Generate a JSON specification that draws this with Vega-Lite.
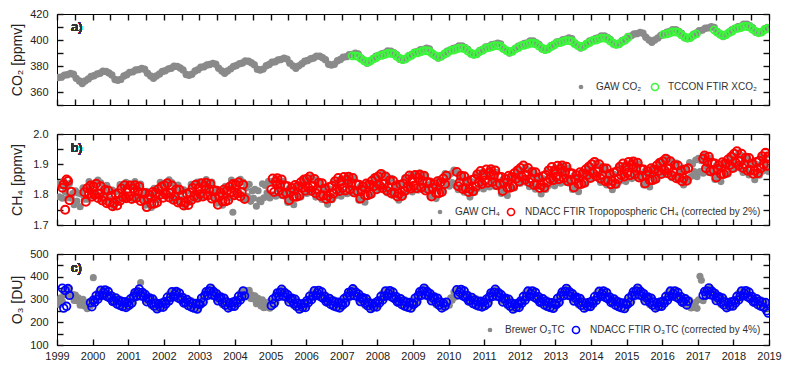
{
"$schema":"https://vega.github.io/schema/vega-lite/v6.json",
"padding":{"left":9,"top":7,"right":5,"bottom":5},
"config":{"font":"Liberation Sans","view":{"stroke":"#000","strokeWidth":1},
"axis":{"domain":true,"domainColor":"#000","domainWidth":1,"grid":false,"ticks":true,"tickColor":"#111","tickOpacity":1,"tickWidth":1.4,"tickSize":-6,"tickRound":true,"zindex":1,"labelFont":"Liberation Sans","labelFontSize":11,"labelColor":"#222","titleFont":"Liberation Sans","titleFontSize":14,"titleFontWeight":"normal","titleColor":"#222","labelFlush":false,"labelOverlap":false},
"legend":{"labelFont":"Liberation Sans","labelFontSize":10,"labelColor":"#333","padding":0,"symbolType":"circle","labelLimit":400,"title":null}},
"datasets":{
"co2":[
{"t":1999.04,"g":371.2},{"t":1999.13,"g":371.6},{"t":1999.21,"g":373.0},{"t":1999.29,"g":373.3},{"t":1999.38,"g":374.2},{"t":1999.46,"g":373.6},{"t":1999.54,"g":370.5},{"t":1999.63,"g":368.4},{"t":1999.71,"g":366.6},{"t":1999.79,"g":368.4},{"t":1999.88,"g":370.0},{"t":1999.96,"g":371.9},
{"t":2000.04,"g":372.5},{"t":2000.13,"g":373.9},{"t":2000.21,"g":374.4},{"t":2000.29,"g":375.9},{"t":2000.38,"g":375.8},{"t":2000.46,"g":374.6},{"t":2000.54,"g":373.1},{"t":2000.63,"g":369.6},{"t":2000.71,"g":369.0},{"t":2000.79,"g":369.7},{"t":2000.88,"g":372.3},{"t":2000.96,"g":373.3},
{"t":2001.04,"g":375.1},{"t":2001.13,"g":375.5},{"t":2001.21,"g":376.9},{"t":2001.29,"g":377.2},{"t":2001.38,"g":378.1},{"t":2001.46,"g":377.5},{"t":2001.54,"g":374.4},{"t":2001.63,"g":372.3},{"t":2001.71,"g":370.5},{"t":2001.79,"g":372.3},{"t":2001.88,"g":373.9},{"t":2001.96,"g":375.8},
{"t":2002.04,"g":376.4},{"t":2002.13,"g":377.8},{"t":2002.21,"g":378.3},{"t":2002.29,"g":379.8},{"t":2002.38,"g":379.7},{"t":2002.46,"g":378.5},{"t":2002.54,"g":377.0},{"t":2002.63,"g":373.5},{"t":2002.71,"g":372.9},{"t":2002.79,"g":373.6},{"t":2002.88,"g":376.2},{"t":2002.96,"g":377.2},
{"t":2003.04,"g":379.0},{"t":2003.13,"g":379.4},{"t":2003.21,"g":380.8},{"t":2003.29,"g":381.1},{"t":2003.38,"g":382.0},{"t":2003.46,"g":381.4},{"t":2003.54,"g":378.3},{"t":2003.63,"g":376.2},{"t":2003.71,"g":374.4},{"t":2003.79,"g":376.2},{"t":2003.88,"g":377.8},{"t":2003.96,"g":379.7},
{"t":2004.04,"g":380.4},{"t":2004.13,"g":381.8},{"t":2004.21,"g":382.3},{"t":2004.29,"g":383.8},{"t":2004.38,"g":383.7},{"t":2004.46,"g":382.5},{"t":2004.54,"g":381.0},{"t":2004.63,"g":377.5},{"t":2004.71,"g":376.9},{"t":2004.79,"g":377.6},{"t":2004.88,"g":380.2},{"t":2004.96,"g":381.2},
{"t":2005.04,"g":382.9},{"t":2005.13,"g":383.3},{"t":2005.21,"g":384.7},{"t":2005.29,"g":385.0},{"t":2005.38,"g":385.9},{"t":2005.46,"g":385.3},{"t":2005.54,"g":382.2},{"t":2005.63,"g":380.1},{"t":2005.71,"g":378.3},{"t":2005.79,"g":380.1},{"t":2005.88,"g":381.7},{"t":2005.96,"g":383.6},
{"t":2006.04,"g":384.2},{"t":2006.13,"g":385.6},{"t":2006.21,"g":386.1},{"t":2006.29,"g":387.6},{"t":2006.38,"g":387.5},{"t":2006.46,"g":386.3},{"t":2006.54,"g":384.8},{"t":2006.63,"g":381.3},{"t":2006.71,"g":380.7},{"t":2006.79,"g":381.4},{"t":2006.88,"g":384.0},{"t":2006.96,"g":385.0},
{"t":2007.04,"g":386.8},{"t":2007.13,"g":387.2},{"t":2007.21,"g":388.6},{"t":2007.29,"g":388.9,"x":387.8},{"t":2007.38,"g":389.8,"x":387.8},{"t":2007.46,"g":389.2,"x":387.4},{"t":2007.54,"g":386.1,"x":385.6},{"t":2007.63,"g":384.0,"x":384.0},{"t":2007.71,"g":382.2,"x":383.0},{"t":2007.79,"g":384.0,"x":383.5},{"t":2007.88,"g":385.6,"x":385.3},{"t":2007.96,"g":387.5,"x":386.3},
{"t":2008.04,"g":388.1,"x":387.8},{"t":2008.13,"g":389.5,"x":388.2},{"t":2008.21,"g":390.0,"x":388.9},{"t":2008.29,"g":391.5,"x":389.7},{"t":2008.38,"g":391.4,"x":389.7},{"t":2008.46,"g":390.2,"x":389.3},{"t":2008.54,"g":388.7,"x":387.5},{"t":2008.63,"g":385.2,"x":385.9},{"t":2008.71,"g":384.6,"x":384.9},{"t":2008.79,"g":385.3,"x":385.4},{"t":2008.88,"g":387.9,"x":387.2},{"t":2008.96,"g":388.9,"x":388.2},
{"t":2009.04,"g":390.7,"x":389.8},{"t":2009.13,"g":391.1,"x":390.2},{"t":2009.21,"g":392.5,"x":390.9},{"t":2009.29,"g":392.8,"x":391.7},{"t":2009.38,"g":393.7,"x":391.7},{"t":2009.46,"g":393.1,"x":391.3},{"t":2009.54,"g":390.0,"x":389.5},{"t":2009.63,"g":387.9,"x":387.9},{"t":2009.71,"g":386.1,"x":386.9},{"t":2009.79,"g":387.9,"x":387.4},{"t":2009.88,"g":389.5,"x":389.2},{"t":2009.96,"g":391.4,"x":390.2},
{"t":2010.04,"g":392.1,"x":391.8},{"t":2010.13,"g":393.5,"x":392.2},{"t":2010.21,"g":394.0,"x":392.9},{"t":2010.29,"g":395.5,"x":393.7},{"t":2010.38,"g":395.4,"x":393.7},{"t":2010.46,"g":394.2,"x":393.3},{"t":2010.54,"g":392.7,"x":391.5},{"t":2010.63,"g":389.2,"x":389.9},{"t":2010.71,"g":388.6,"x":388.9},{"t":2010.79,"g":389.3,"x":389.4},{"t":2010.88,"g":391.9,"x":391.2},{"t":2010.96,"g":392.9,"x":392.2},
{"t":2011.04,"g":394.6,"x":393.7},{"t":2011.13,"g":395.0,"x":394.1},{"t":2011.21,"g":396.4,"x":394.8},{"t":2011.29,"g":396.7,"x":395.6},{"t":2011.38,"g":397.6,"x":395.6},{"t":2011.46,"g":397.0,"x":395.2},{"t":2011.54,"g":393.9,"x":393.4},{"t":2011.63,"g":391.8,"x":391.8},{"t":2011.71,"g":390.0,"x":390.8},{"t":2011.79,"g":391.8,"x":391.3},{"t":2011.88,"g":393.4,"x":393.1},{"t":2011.96,"g":395.3,"x":394.1},
{"t":2012.04,"g":395.9,"x":395.6},{"t":2012.13,"g":397.3,"x":396.0},{"t":2012.21,"g":397.8,"x":396.7},{"t":2012.29,"g":399.3,"x":397.5},{"t":2012.38,"g":399.2,"x":397.5},{"t":2012.46,"g":398.0,"x":397.1},{"t":2012.54,"g":396.5,"x":395.3},{"t":2012.63,"g":393.0,"x":393.7},{"t":2012.71,"g":392.4,"x":392.7},{"t":2012.79,"g":393.1,"x":393.2},{"t":2012.88,"g":395.7,"x":395.0},{"t":2012.96,"g":396.7,"x":396.0},
{"t":2013.04,"g":398.5,"x":397.6},{"t":2013.13,"g":398.9,"x":398.0},{"t":2013.21,"g":400.3,"x":398.7},{"t":2013.29,"g":400.6,"x":399.5},{"t":2013.38,"g":401.5,"x":399.5},{"t":2013.46,"g":400.9,"x":399.1},{"t":2013.54,"g":397.8,"x":397.3},{"t":2013.63,"g":395.7,"x":395.7},{"t":2013.71,"g":393.9,"x":394.7},{"t":2013.79,"g":395.7,"x":395.2},{"t":2013.88,"g":397.3,"x":397.0},{"t":2013.96,"g":399.2,"x":398.0},
{"t":2014.04,"g":399.8,"x":399.5},{"t":2014.13,"g":401.2,"x":399.9},{"t":2014.21,"g":401.7,"x":400.6},{"t":2014.29,"g":403.2,"x":401.4},{"t":2014.38,"g":403.1,"x":401.4},{"t":2014.46,"g":401.9,"x":401.0},{"t":2014.54,"g":400.4,"x":399.2},{"t":2014.63,"g":396.9,"x":397.6},{"t":2014.71,"g":396.3,"x":396.6},{"t":2014.79,"g":397.0,"x":397.1},{"t":2014.88,"g":399.6,"x":398.9},{"t":2014.96,"g":400.6,"x":399.9},
{"t":2015.04,"g":402.8,"x":401.9},{"t":2015.13,"g":403.2},{"t":2015.21,"g":404.6},{"t":2015.29,"g":404.9},{"t":2015.38,"g":405.8},{"t":2015.46,"g":405.2},{"t":2015.54,"g":402.1},{"t":2015.63,"g":400.0},{"t":2015.71,"g":398.2},{"t":2015.79,"g":400.0},{"t":2015.88,"g":401.6},{"t":2015.96,"g":403.5},
{"t":2016.04,"g":404.6,"x":404.3},{"t":2016.13,"g":406.0,"x":404.7},{"t":2016.21,"g":406.5,"x":405.4},{"t":2016.29,"g":408.0,"x":406.2},{"t":2016.38,"g":407.9,"x":406.2},{"t":2016.46,"g":406.7,"x":405.8},{"t":2016.54,"g":405.2,"x":404.0},{"t":2016.63,"g":401.7,"x":402.4},{"t":2016.71,"g":401.1,"x":401.4},{"t":2016.79,"g":401.8,"x":401.9},{"t":2016.88,"g":404.4,"x":403.7},{"t":2016.96,"g":405.4,"x":404.7},
{"t":2017.04,"g":407.2},{"t":2017.13,"g":407.6},{"t":2017.21,"g":409.0},{"t":2017.29,"g":409.3},{"t":2017.38,"g":410.2},{"t":2017.46,"g":409.6,"x":407.8},{"t":2017.54,"g":406.5,"x":406.0},{"t":2017.63,"g":404.4,"x":404.4},{"t":2017.71,"g":402.6,"x":403.4},{"t":2017.79,"g":404.4,"x":403.9},{"t":2017.88,"g":406.0,"x":405.7},{"t":2017.96,"g":407.9,"x":406.7},
{"t":2018.04,"g":408.8,"x":408.5},{"t":2018.13,"g":410.2,"x":408.9},{"t":2018.21,"g":410.7,"x":409.6},{"t":2018.29,"g":412.2,"x":410.4},{"t":2018.38,"g":412.1,"x":410.4},{"t":2018.46,"g":410.9,"x":410.0},{"t":2018.54,"g":409.4,"x":408.2},{"t":2018.63,"g":405.9,"x":406.6},{"t":2018.71,"g":405.3,"x":405.6},{"t":2018.79,"g":406.0,"x":406.1},{"t":2018.88,"g":408.6,"x":407.9},{"t":2018.96,"g":409.6,"x":408.9}
],
"ch4":[
{"t":1999.02,"g":1.837},{"t":1999.06,"g":1.793},{"t":1999.10,"g":1.829},{"t":1999.15,"g":1.788,"n":1.823},{"t":1999.19,"g":1.845,"n":1.834},{"t":1999.23,"g":1.810,"n":1.750},{"t":1999.27,"g":1.828,"n":1.850},{"t":1999.31,"g":1.790,"n":1.845},{"t":1999.35,"g":1.837,"n":1.782},{"t":1999.40,"g":1.788,"n":1.810},{"t":1999.44,"g":1.804},{"t":1999.48,"g":1.767},{"t":1999.52,"g":1.813},{"t":1999.56,"g":1.779},{"t":1999.60,"g":1.805},{"t":1999.65,"g":1.760},{"t":1999.69,"g":1.801},{"t":1999.73,"g":1.823},{"t":1999.77,"g":1.785,"n":1.808},{"t":1999.81,"g":1.819,"n":1.777},{"t":1999.85,"g":1.785,"n":1.821},{"t":1999.90,"g":1.843,"n":1.803},{"t":1999.94,"g":1.807,"n":1.830},{"t":1999.98,"g":1.832,"n":1.793},
{"t":2000.02,"g":1.795,"n":1.828},{"t":2000.06,"g":1.836,"n":1.799},{"t":2000.10,"g":1.807,"n":1.836},{"t":2000.15,"g":1.848,"n":1.789},{"t":2000.19,"g":1.797,"n":1.804},{"t":2000.23,"g":1.839,"n":1.828},{"t":2000.27,"g":1.783,"n":1.781},{"t":2000.31,"g":1.820,"n":1.793},{"t":2000.35,"g":1.791,"n":1.815},{"t":2000.40,"g":1.831,"n":1.772},{"t":2000.44,"g":1.775,"n":1.814},{"t":2000.48,"g":1.809,"n":1.774},{"t":2000.52,"g":1.785,"n":1.796},{"t":2000.56,"g":1.815,"n":1.762},{"t":2000.60,"g":1.759,"n":1.772},{"t":2000.65,"g":1.810,"n":1.801},{"t":2000.69,"g":1.779,"n":1.764},{"t":2000.73,"g":1.774,"n":1.805},{"t":2000.77,"g":1.833,"n":1.780},{"t":2000.81,"g":1.787,"n":1.820},{"t":2000.85,"g":1.827,"n":1.792},{"t":2000.90,"g":1.803,"n":1.831},{"t":2000.94,"g":1.841,"n":1.788},{"t":2000.98,"g":1.786,"n":1.819},
{"t":2001.02,"g":1.835,"n":1.794},{"t":2001.06,"g":1.791,"n":1.830},{"t":2001.10,"g":1.827,"n":1.786},{"t":2001.15,"g":1.786,"n":1.820},{"t":2001.19,"g":1.843,"n":1.831},{"t":2001.23,"g":1.808,"n":1.789},{"t":2001.27,"g":1.826,"n":1.810},{"t":2001.31,"g":1.788,"n":1.827},{"t":2001.35,"g":1.835,"n":1.779},{"t":2001.40,"g":1.786,"n":1.807},{"t":2001.44,"g":1.802,"n":1.783},{"t":2001.48,"g":1.765,"n":1.805},{"t":2001.52,"g":1.811,"n":1.759},{"t":2001.56,"g":1.777,"n":1.787},{"t":2001.60,"g":1.803,"n":1.799},{"t":2001.65,"g":1.758,"n":1.770},{"t":2001.69,"g":1.799,"n":1.809},{"t":2001.73,"g":1.821,"n":1.770},{"t":2001.77,"g":1.783,"n":1.805},{"t":2001.81,"g":1.817,"n":1.774},{"t":2001.85,"g":1.783,"n":1.818},{"t":2001.90,"g":1.841,"n":1.800},{"t":2001.94,"g":1.805,"n":1.827},{"t":2001.98,"g":1.830,"n":1.790},
{"t":2002.02,"g":1.796,"n":1.830},{"t":2002.06,"g":1.837,"n":1.801},{"t":2002.10,"g":1.808,"n":1.838},{"t":2002.15,"g":1.849,"n":1.791},{"t":2002.19,"g":1.798,"n":1.806},{"t":2002.23,"g":1.840,"n":1.830},{"t":2002.27,"g":1.784,"n":1.783},{"t":2002.31,"g":1.821,"n":1.795},{"t":2002.35,"g":1.792,"n":1.817},{"t":2002.40,"g":1.832,"n":1.774},{"t":2002.44,"g":1.776,"n":1.816},{"t":2002.48,"g":1.810,"n":1.776},{"t":2002.52,"g":1.786,"n":1.798},{"t":2002.56,"g":1.816,"n":1.764},{"t":2002.60,"g":1.760,"n":1.774},{"t":2002.65,"g":1.811,"n":1.803},{"t":2002.69,"g":1.780,"n":1.766},{"t":2002.73,"g":1.775,"n":1.807},{"t":2002.77,"g":1.834,"n":1.782},{"t":2002.81,"g":1.788,"n":1.822},{"t":2002.85,"g":1.828,"n":1.794},{"t":2002.90,"g":1.804,"n":1.833},{"t":2002.94,"g":1.842,"n":1.790},{"t":2002.98,"g":1.787,"n":1.821},
{"t":2003.02,"g":1.842,"n":1.802},{"t":2003.06,"g":1.798,"n":1.838},{"t":2003.10,"g":1.834,"n":1.794},{"t":2003.15,"g":1.793,"n":1.828},{"t":2003.19,"g":1.850,"n":1.839},{"t":2003.23,"g":1.815,"n":1.797},{"t":2003.27,"g":1.833,"n":1.818},{"t":2003.31,"g":1.795,"n":1.835},{"t":2003.35,"g":1.842,"n":1.787},{"t":2003.40,"g":1.793,"n":1.815},{"t":2003.44,"g":1.809,"n":1.791},{"t":2003.48,"g":1.772,"n":1.813},{"t":2003.52,"g":1.818,"n":1.767},{"t":2003.56,"g":1.784,"n":1.795},{"t":2003.60,"g":1.810,"n":1.807},{"t":2003.65,"g":1.765,"n":1.778},{"t":2003.69,"g":1.806,"n":1.817},{"t":2003.73,"g":1.828,"n":1.778},{"t":2003.77,"g":1.790,"n":1.813},{"t":2003.81,"g":1.824,"n":1.782},{"t":2003.85,"g":1.790,"n":1.826},{"t":2003.90,"g":1.848,"n":1.808},{"t":2003.94,"g":1.742,"n":1.835},{"t":2003.98,"g":1.837,"n":1.798},
{"t":2004.02,"g":1.798,"n":1.833},{"t":2004.06,"g":1.839,"n":1.804},{"t":2004.10,"g":1.810,"n":1.841},{"t":2004.15,"g":1.851,"n":1.794},{"t":2004.19,"g":1.800,"n":1.809},{"t":2004.23,"g":1.842,"n":1.833},{"t":2004.27,"g":1.786,"n":1.786},{"t":2004.31,"g":1.823},{"t":2004.35,"g":1.794},{"t":2004.40,"g":1.834},{"t":2004.44,"g":1.778},{"t":2004.48,"g":1.812},{"t":2004.52,"g":1.788},{"t":2004.56,"g":1.818},{"t":2004.60,"g":1.762},{"t":2004.65,"g":1.813},{"t":2004.69,"g":1.782},{"t":2004.73,"g":1.777},{"t":2004.77,"g":1.836},{"t":2004.81,"g":1.790},{"t":2004.85,"g":1.830},{"t":2004.90,"g":1.806},{"t":2004.94,"g":1.844},{"t":2004.98,"g":1.789},
{"t":2005.02,"g":1.844,"n":1.817},{"t":2005.06,"g":1.800,"n":1.853},{"t":2005.10,"g":1.836,"n":1.809},{"t":2005.15,"g":1.795,"n":1.843},{"t":2005.19,"g":1.852,"n":1.854},{"t":2005.23,"g":1.817,"n":1.812},{"t":2005.27,"g":1.835,"n":1.833},{"t":2005.31,"g":1.797,"n":1.850},{"t":2005.35,"g":1.844,"n":1.802},{"t":2005.40,"g":1.795,"n":1.830},{"t":2005.44,"g":1.811,"n":1.806},{"t":2005.48,"g":1.774,"n":1.828},{"t":2005.52,"g":1.820,"n":1.782},{"t":2005.56,"g":1.786,"n":1.810},{"t":2005.60,"g":1.812,"n":1.822},{"t":2005.65,"g":1.767,"n":1.793},{"t":2005.69,"g":1.808,"n":1.832},{"t":2005.73,"g":1.830,"n":1.793},{"t":2005.77,"g":1.792,"n":1.828},{"t":2005.81,"g":1.826,"n":1.797},{"t":2005.85,"g":1.792,"n":1.841},{"t":2005.90,"g":1.850,"n":1.823},{"t":2005.94,"g":1.814,"n":1.850},{"t":2005.98,"g":1.839,"n":1.813},
{"t":2006.02,"g":1.804,"n":1.852},{"t":2006.06,"g":1.845,"n":1.823},{"t":2006.10,"g":1.816,"n":1.860},{"t":2006.15,"g":1.857,"n":1.813},{"t":2006.19,"g":1.806,"n":1.828},{"t":2006.23,"g":1.848,"n":1.852},{"t":2006.27,"g":1.792,"n":1.805},{"t":2006.31,"g":1.829,"n":1.817},{"t":2006.35,"g":1.800,"n":1.839},{"t":2006.40,"g":1.840,"n":1.796},{"t":2006.44,"g":1.784,"n":1.838},{"t":2006.48,"g":1.818,"n":1.798},{"t":2006.52,"g":1.794,"n":1.820},{"t":2006.56,"g":1.824,"n":1.786},{"t":2006.60,"g":1.768,"n":1.796},{"t":2006.65,"g":1.819,"n":1.825},{"t":2006.69,"g":1.788,"n":1.788},{"t":2006.73,"g":1.783,"n":1.829},{"t":2006.77,"g":1.842,"n":1.804},{"t":2006.81,"g":1.796,"n":1.844},{"t":2006.85,"g":1.836,"n":1.816},{"t":2006.90,"g":1.812,"n":1.855},{"t":2006.94,"g":1.850,"n":1.812},{"t":2006.98,"g":1.795,"n":1.843},
{"t":2007.02,"g":1.852,"n":1.822},{"t":2007.06,"g":1.808,"n":1.858},{"t":2007.10,"g":1.844,"n":1.814},{"t":2007.15,"g":1.803,"n":1.848},{"t":2007.19,"g":1.860,"n":1.859},{"t":2007.23,"g":1.825,"n":1.817},{"t":2007.27,"g":1.843,"n":1.838},{"t":2007.31,"g":1.805,"n":1.855},{"t":2007.35,"g":1.852,"n":1.807},{"t":2007.40,"g":1.803,"n":1.835},{"t":2007.44,"g":1.819,"n":1.811},{"t":2007.48,"g":1.782,"n":1.833},{"t":2007.52,"g":1.828,"n":1.787},{"t":2007.56,"g":1.794,"n":1.815},{"t":2007.60,"g":1.820,"n":1.827},{"t":2007.65,"g":1.775,"n":1.798},{"t":2007.69,"g":1.816,"n":1.837},{"t":2007.73,"g":1.838,"n":1.798},{"t":2007.77,"g":1.800,"n":1.833},{"t":2007.81,"g":1.834,"n":1.802},{"t":2007.85,"g":1.800,"n":1.846},{"t":2007.90,"g":1.858,"n":1.828},{"t":2007.94,"g":1.822,"n":1.855},{"t":2007.98,"g":1.847,"n":1.818},
{"t":2008.02,"g":1.818,"n":1.860},{"t":2008.06,"g":1.859,"n":1.831},{"t":2008.10,"g":1.830,"n":1.868},{"t":2008.15,"g":1.871,"n":1.821},{"t":2008.19,"g":1.820,"n":1.836},{"t":2008.23,"g":1.862,"n":1.860},{"t":2008.27,"g":1.806,"n":1.813},{"t":2008.31,"g":1.843,"n":1.825},{"t":2008.35,"g":1.814,"n":1.847},{"t":2008.40,"g":1.854,"n":1.804},{"t":2008.44,"g":1.798,"n":1.846},{"t":2008.48,"g":1.832,"n":1.806},{"t":2008.52,"g":1.808,"n":1.828},{"t":2008.56,"g":1.838,"n":1.794},{"t":2008.60,"g":1.782,"n":1.804},{"t":2008.65,"g":1.833,"n":1.833},{"t":2008.69,"g":1.802,"n":1.796},{"t":2008.73,"g":1.797,"n":1.837},{"t":2008.77,"g":1.856,"n":1.812},{"t":2008.81,"g":1.810,"n":1.852},{"t":2008.85,"g":1.850,"n":1.824},{"t":2008.90,"g":1.826,"n":1.863},{"t":2008.94,"g":1.864,"n":1.820},{"t":2008.98,"g":1.809,"n":1.851},
{"t":2009.02,"g":1.864,"n":1.829},{"t":2009.06,"g":1.820,"n":1.865},{"t":2009.10,"g":1.856,"n":1.821},{"t":2009.15,"g":1.815,"n":1.855},{"t":2009.19,"g":1.872,"n":1.866},{"t":2009.23,"g":1.837,"n":1.824},{"t":2009.27,"g":1.855,"n":1.845},{"t":2009.31,"g":1.817,"n":1.862},{"t":2009.35,"g":1.864,"n":1.814},{"t":2009.40,"g":1.815,"n":1.842},{"t":2009.44,"g":1.831,"n":1.818},{"t":2009.48,"g":1.794,"n":1.840},{"t":2009.52,"g":1.840,"n":1.794},{"t":2009.56,"g":1.806,"n":1.822},{"t":2009.60,"g":1.832,"n":1.834},{"t":2009.65,"g":1.787,"n":1.805},{"t":2009.69,"g":1.828,"n":1.844},{"t":2009.73,"g":1.850,"n":1.805},{"t":2009.77,"g":1.812,"n":1.840},{"t":2009.81,"g":1.846,"n":1.809},{"t":2009.85,"g":1.812,"n":1.853},{"t":2009.90,"g":1.870,"n":1.835},{"t":2009.94,"g":1.834,"n":1.862},{"t":2009.98,"g":1.859},
{"t":2010.02,"g":1.828},{"t":2010.06,"g":1.869},{"t":2010.10,"g":1.840},{"t":2010.15,"g":1.881},{"t":2010.19,"g":1.830},{"t":2010.23,"g":1.872,"n":1.875},{"t":2010.27,"g":1.816,"n":1.828},{"t":2010.31,"g":1.853,"n":1.840},{"t":2010.35,"g":1.824,"n":1.862},{"t":2010.40,"g":1.864,"n":1.819},{"t":2010.44,"g":1.808,"n":1.861},{"t":2010.48,"g":1.842,"n":1.821},{"t":2010.52,"g":1.818,"n":1.843},{"t":2010.56,"g":1.848,"n":1.809},{"t":2010.60,"g":1.792,"n":1.819},{"t":2010.65,"g":1.843,"n":1.848},{"t":2010.69,"g":1.812,"n":1.811},{"t":2010.73,"g":1.807,"n":1.852},{"t":2010.77,"g":1.866,"n":1.827},{"t":2010.81,"g":1.820,"n":1.867},{"t":2010.85,"g":1.860,"n":1.839},{"t":2010.90,"g":1.836,"n":1.878},{"t":2010.94,"g":1.874,"n":1.835},{"t":2010.98,"g":1.819,"n":1.866},
{"t":2011.02,"g":1.874,"n":1.847},{"t":2011.06,"g":1.830,"n":1.883},{"t":2011.10,"g":1.866,"n":1.839},{"t":2011.15,"g":1.825,"n":1.873},{"t":2011.19,"g":1.882,"n":1.884},{"t":2011.23,"g":1.847,"n":1.842},{"t":2011.27,"g":1.865,"n":1.863},{"t":2011.31,"g":1.827,"n":1.880},{"t":2011.35,"g":1.874,"n":1.832},{"t":2011.40,"g":1.825,"n":1.860},{"t":2011.44,"g":1.841,"n":1.836},{"t":2011.48,"g":1.804,"n":1.858},{"t":2011.52,"g":1.850,"n":1.812},{"t":2011.56,"g":1.816,"n":1.840},{"t":2011.60,"g":1.842,"n":1.852},{"t":2011.65,"g":1.797,"n":1.823},{"t":2011.69,"g":1.838,"n":1.862},{"t":2011.73,"g":1.860,"n":1.823},{"t":2011.77,"g":1.822,"n":1.858},{"t":2011.81,"g":1.856,"n":1.827},{"t":2011.85,"g":1.822,"n":1.871},{"t":2011.90,"g":1.880,"n":1.853},{"t":2011.94,"g":1.844,"n":1.880},{"t":2011.98,"g":1.869,"n":1.843},
{"t":2012.02,"g":1.838,"n":1.888},{"t":2012.06,"g":1.879,"n":1.859},{"t":2012.10,"g":1.850,"n":1.896},{"t":2012.15,"g":1.891,"n":1.849},{"t":2012.19,"g":1.840,"n":1.864},{"t":2012.23,"g":1.882,"n":1.888},{"t":2012.27,"g":1.826,"n":1.841},{"t":2012.31,"g":1.863,"n":1.853},{"t":2012.35,"g":1.834,"n":1.875},{"t":2012.40,"g":1.874,"n":1.832},{"t":2012.44,"g":1.818,"n":1.874},{"t":2012.48,"g":1.852,"n":1.834},{"t":2012.52,"g":1.828,"n":1.856},{"t":2012.56,"g":1.858,"n":1.822},{"t":2012.60,"g":1.802,"n":1.832},{"t":2012.65,"g":1.853,"n":1.861},{"t":2012.69,"g":1.822,"n":1.824},{"t":2012.73,"g":1.817,"n":1.865},{"t":2012.77,"g":1.876,"n":1.840},{"t":2012.81,"g":1.830,"n":1.880},{"t":2012.85,"g":1.870,"n":1.852},{"t":2012.90,"g":1.846,"n":1.891},{"t":2012.94,"g":1.884,"n":1.848},{"t":2012.98,"g":1.829,"n":1.879},
{"t":2013.02,"g":1.887,"n":1.859},{"t":2013.06,"g":1.843,"n":1.895},{"t":2013.10,"g":1.879,"n":1.851},{"t":2013.15,"g":1.838,"n":1.885},{"t":2013.19,"g":1.895,"n":1.896},{"t":2013.23,"g":1.860,"n":1.854},{"t":2013.27,"g":1.878,"n":1.875},{"t":2013.31,"g":1.840,"n":1.892},{"t":2013.35,"g":1.887,"n":1.844},{"t":2013.40,"g":1.838,"n":1.872},{"t":2013.44,"g":1.854,"n":1.848},{"t":2013.48,"g":1.817,"n":1.870},{"t":2013.52,"g":1.863,"n":1.824},{"t":2013.56,"g":1.829,"n":1.852},{"t":2013.60,"g":1.855,"n":1.864},{"t":2013.65,"g":1.810,"n":1.835},{"t":2013.69,"g":1.851,"n":1.874},{"t":2013.73,"g":1.873,"n":1.835},{"t":2013.77,"g":1.835,"n":1.870},{"t":2013.81,"g":1.869,"n":1.839},{"t":2013.85,"g":1.835,"n":1.883},{"t":2013.90,"g":1.893,"n":1.865},{"t":2013.94,"g":1.857,"n":1.892},{"t":2013.98,"g":1.882,"n":1.855},
{"t":2014.02,"g":1.852,"n":1.900},{"t":2014.06,"g":1.893,"n":1.871},{"t":2014.10,"g":1.864,"n":1.908},{"t":2014.15,"g":1.905,"n":1.861},{"t":2014.19,"g":1.854,"n":1.876},{"t":2014.23,"g":1.896,"n":1.900},{"t":2014.27,"g":1.840,"n":1.853},{"t":2014.31,"g":1.877,"n":1.865},{"t":2014.35,"g":1.848,"n":1.887},{"t":2014.40,"g":1.888,"n":1.844},{"t":2014.44,"g":1.832,"n":1.886},{"t":2014.48,"g":1.866,"n":1.846},{"t":2014.52,"g":1.842,"n":1.868},{"t":2014.56,"g":1.872,"n":1.834},{"t":2014.60,"g":1.816,"n":1.844},{"t":2014.65,"g":1.867,"n":1.873},{"t":2014.69,"g":1.836,"n":1.836},{"t":2014.73,"g":1.831,"n":1.877},{"t":2014.77,"g":1.890,"n":1.852},{"t":2014.81,"g":1.844,"n":1.892},{"t":2014.85,"g":1.884,"n":1.864},{"t":2014.90,"g":1.860,"n":1.903},{"t":2014.94,"g":1.898,"n":1.860},{"t":2014.98,"g":1.843,"n":1.891},
{"t":2015.02,"g":1.902,"n":1.872},{"t":2015.06,"g":1.858,"n":1.908},{"t":2015.10,"g":1.894,"n":1.864},{"t":2015.15,"g":1.853,"n":1.898},{"t":2015.19,"g":1.910,"n":1.909},{"t":2015.23,"g":1.875,"n":1.867},{"t":2015.27,"g":1.893,"n":1.888},{"t":2015.31,"g":1.855,"n":1.905},{"t":2015.35,"g":1.902,"n":1.857},{"t":2015.40,"g":1.853,"n":1.885},{"t":2015.44,"g":1.869,"n":1.861},{"t":2015.48,"g":1.832,"n":1.883},{"t":2015.52,"g":1.878,"n":1.837},{"t":2015.56,"g":1.844,"n":1.865},{"t":2015.60,"g":1.870,"n":1.877},{"t":2015.65,"g":1.825,"n":1.848},{"t":2015.69,"g":1.866,"n":1.887},{"t":2015.73,"g":1.888,"n":1.848},{"t":2015.77,"g":1.850,"n":1.883},{"t":2015.81,"g":1.884,"n":1.852},{"t":2015.85,"g":1.850,"n":1.896},{"t":2015.90,"g":1.908,"n":1.878},{"t":2015.94,"g":1.872,"n":1.905},{"t":2015.98,"g":1.897,"n":1.868},
{"t":2016.02,"g":1.868,"n":1.910},{"t":2016.06,"g":1.909,"n":1.881},{"t":2016.10,"g":1.880,"n":1.918},{"t":2016.15,"g":1.921,"n":1.871},{"t":2016.19,"g":1.870,"n":1.886},{"t":2016.23,"g":1.912,"n":1.910},{"t":2016.27,"g":1.856,"n":1.863},{"t":2016.31,"g":1.893,"n":1.875},{"t":2016.35,"g":1.864,"n":1.897},{"t":2016.40,"g":1.904,"n":1.854},{"t":2016.44,"g":1.848,"n":1.896},{"t":2016.48,"g":1.882,"n":1.856},{"t":2016.52,"g":1.858,"n":1.878},{"t":2016.56,"g":1.888,"n":1.844},{"t":2016.60,"g":1.832,"n":1.854},{"t":2016.65,"g":1.883,"n":1.883},{"t":2016.69,"g":1.852,"n":1.846},{"t":2016.73,"g":1.847,"n":1.887},{"t":2016.77,"g":1.906},{"t":2016.81,"g":1.860},{"t":2016.85,"g":1.900},{"t":2016.90,"g":1.876},{"t":2016.94,"g":1.914},{"t":2016.98,"g":1.859},
{"t":2017.02,"g":1.920},{"t":2017.06,"g":1.876},{"t":2017.10,"g":1.912},{"t":2017.15,"g":1.871,"n":1.918},{"t":2017.19,"g":1.928,"n":1.929},{"t":2017.23,"g":1.893,"n":1.887},{"t":2017.27,"g":1.911,"n":1.908},{"t":2017.31,"g":1.873,"n":1.925},{"t":2017.35,"g":1.920,"n":1.877},{"t":2017.40,"g":1.871,"n":1.905},{"t":2017.44,"g":1.887,"n":1.881},{"t":2017.48,"g":1.850,"n":1.903},{"t":2017.52,"g":1.896,"n":1.857},{"t":2017.56,"g":1.862,"n":1.885},{"t":2017.60,"g":1.888,"n":1.897},{"t":2017.65,"g":1.843,"n":1.868},{"t":2017.69,"g":1.884,"n":1.907},{"t":2017.73,"g":1.906,"n":1.868},{"t":2017.77,"g":1.868,"n":1.903},{"t":2017.81,"g":1.902,"n":1.872},{"t":2017.85,"g":1.868,"n":1.916},{"t":2017.90,"g":1.926,"n":1.898},{"t":2017.94,"g":1.890,"n":1.925},{"t":2017.98,"g":1.915,"n":1.888},
{"t":2018.02,"g":1.885,"n":1.935},{"t":2018.06,"g":1.926,"n":1.906},{"t":2018.10,"g":1.897,"n":1.943},{"t":2018.15,"g":1.938,"n":1.896},{"t":2018.19,"g":1.887,"n":1.911},{"t":2018.23,"g":1.929,"n":1.935},{"t":2018.27,"g":1.873,"n":1.888},{"t":2018.31,"g":1.910,"n":1.900},{"t":2018.35,"g":1.881,"n":1.922},{"t":2018.40,"g":1.921,"n":1.879},{"t":2018.44,"g":1.865,"n":1.921},{"t":2018.48,"g":1.899,"n":1.881},{"t":2018.52,"g":1.875,"n":1.903},{"t":2018.56,"g":1.905,"n":1.869},{"t":2018.60,"g":1.849,"n":1.879},{"t":2018.65,"g":1.900,"n":1.908},{"t":2018.69,"g":1.869,"n":1.871},{"t":2018.73,"g":1.864,"n":1.912},{"t":2018.77,"g":1.923,"n":1.887},{"t":2018.81,"g":1.877,"n":1.927},{"t":2018.85,"g":1.917,"n":1.899},{"t":2018.90,"g":1.893,"n":1.938},{"t":2018.94,"g":1.931,"n":1.895},{"t":2018.98,"g":1.876,"n":1.926}
],
"o3":[
{"t":1999.02,"g":296},{"t":1999.06,"g":277},{"t":1999.10,"g":308},{"t":1999.15,"g":292,"n":350},{"t":1999.19,"g":333,"n":262},{"t":1999.23,"g":321,"n":340},{"t":1999.27,"g":341,"n":270},{"t":1999.31,"g":321,"n":348},{"t":1999.35,"g":348,"n":318},{"t":1999.40,"g":317},{"t":1999.44,"g":323},{"t":1999.48,"g":296},{"t":1999.52,"g":320},{"t":1999.56,"g":295},{"t":1999.60,"g":307},{"t":1999.65,"g":275},{"t":1999.69,"g":296},{"t":1999.73,"g":301},{"t":1999.77,"g":271},{"t":1999.81,"g":284},{"t":1999.85,"g":259},{"t":1999.90,"g":290},{"t":1999.94,"g":270,"n":286},{"t":1999.98,"g":288,"n":268},
{"t":2000.02,"g":396,"n":297},{"t":2000.06,"g":305,"n":288},{"t":2000.10,"g":295,"n":317},{"t":2000.15,"g":331,"n":301},{"t":2000.19,"g":309,"n":317},{"t":2000.23,"g":343,"n":341},{"t":2000.27,"g":316,"n":319},{"t":2000.31,"g":342,"n":330},{"t":2000.35,"g":323,"n":342},{"t":2000.40,"g":344,"n":314},{"t":2000.44,"g":307,"n":335},{"t":2000.48,"g":323,"n":307},{"t":2000.52,"g":305,"n":316},{"t":2000.56,"g":319,"n":292},{"t":2000.60,"g":284,"n":295},{"t":2000.65,"g":308,"n":307},{"t":2000.69,"g":285,"n":280},{"t":2000.73,"g":274,"n":296},{"t":2000.77,"g":302,"n":274},{"t":2000.81,"g":267,"n":291},{"t":2000.85,"g":286,"n":269},{"t":2000.90,"g":269,"n":290},{"t":2000.94,"g":292,"n":265},{"t":2000.98,"g":265,"n":287},
{"t":2001.02,"g":294,"n":274},{"t":2001.06,"g":275,"n":302},{"t":2001.10,"g":306,"n":284},{"t":2001.15,"g":290,"n":314},{"t":2001.19,"g":331,"n":330},{"t":2001.23,"g":319,"n":314},{"t":2001.27,"g":339,"n":333},{"t":2001.31,"g":319,"n":346},{"t":2001.35,"g":375,"n":316},{"t":2001.40,"g":315,"n":331},{"t":2001.44,"g":321,"n":312},{"t":2001.48,"g":294,"n":322},{"t":2001.52,"g":318,"n":290},{"t":2001.56,"g":293,"n":303},{"t":2001.60,"g":305,"n":307},{"t":2001.65,"g":273,"n":283},{"t":2001.69,"g":294,"n":302},{"t":2001.73,"g":299,"n":271},{"t":2001.77,"g":269,"n":285},{"t":2001.81,"g":282,"n":259},{"t":2001.85,"g":257,"n":280},{"t":2001.90,"g":288,"n":267},{"t":2001.94,"g":268,"n":284},{"t":2001.98,"g":286,"n":266},
{"t":2002.02,"g":266,"n":290},{"t":2002.06,"g":298,"n":281},{"t":2002.10,"g":288,"n":310},{"t":2002.15,"g":324,"n":294},{"t":2002.19,"g":302,"n":310},{"t":2002.23,"g":336,"n":334},{"t":2002.27,"g":309,"n":312},{"t":2002.31,"g":335,"n":323},{"t":2002.35,"g":316,"n":335},{"t":2002.40,"g":337,"n":307},{"t":2002.44,"g":300,"n":328},{"t":2002.48,"g":316,"n":300},{"t":2002.52,"g":298,"n":309},{"t":2002.56,"g":312,"n":285},{"t":2002.60,"g":277,"n":288},{"t":2002.65,"g":301,"n":300},{"t":2002.69,"g":278,"n":273},{"t":2002.73,"g":267,"n":289},{"t":2002.77,"g":295,"n":267},{"t":2002.81,"g":260,"n":284},{"t":2002.85,"g":279,"n":262},{"t":2002.90,"g":262,"n":283},{"t":2002.94,"g":285,"n":258},{"t":2002.98,"g":258,"n":280},
{"t":2003.02,"g":298,"n":278},{"t":2003.06,"g":279,"n":306},{"t":2003.10,"g":310,"n":288},{"t":2003.15,"g":294,"n":318},{"t":2003.19,"g":335,"n":334},{"t":2003.23,"g":323,"n":318},{"t":2003.27,"g":343,"n":337},{"t":2003.31,"g":323,"n":350},{"t":2003.35,"g":350,"n":320},{"t":2003.40,"g":319,"n":335},{"t":2003.44,"g":325,"n":316},{"t":2003.48,"g":298,"n":326},{"t":2003.52,"g":322,"n":294},{"t":2003.56,"g":297,"n":307},{"t":2003.60,"g":309,"n":311},{"t":2003.65,"g":277,"n":287},{"t":2003.69,"g":298,"n":306},{"t":2003.73,"g":303,"n":275},{"t":2003.77,"g":273,"n":289},{"t":2003.81,"g":286,"n":263},{"t":2003.85,"g":261,"n":284},{"t":2003.90,"g":292,"n":271},{"t":2003.94,"g":272,"n":288},{"t":2003.98,"g":290,"n":270},
{"t":2004.02,"g":270,"n":294},{"t":2004.06,"g":302,"n":285},{"t":2004.10,"g":292,"n":314},{"t":2004.15,"g":328,"n":298},{"t":2004.19,"g":306,"n":314},{"t":2004.23,"g":340,"n":338},{"t":2004.27,"g":313,"n":316},{"t":2004.31,"g":339},{"t":2004.35,"g":320},{"t":2004.40,"g":341},{"t":2004.44,"g":304},{"t":2004.48,"g":320},{"t":2004.52,"g":302},{"t":2004.56,"g":316},{"t":2004.60,"g":281},{"t":2004.65,"g":305},{"t":2004.69,"g":282},{"t":2004.73,"g":271},{"t":2004.77,"g":299},{"t":2004.81,"g":264},{"t":2004.85,"g":283},{"t":2004.90,"g":266},{"t":2004.94,"g":289},{"t":2004.98,"g":262},
{"t":2005.02,"g":293,"n":273},{"t":2005.06,"g":274,"n":301},{"t":2005.10,"g":305,"n":283},{"t":2005.15,"g":289,"n":313},{"t":2005.19,"g":330,"n":329},{"t":2005.23,"g":318,"n":313},{"t":2005.27,"g":338,"n":332},{"t":2005.31,"g":318,"n":345},{"t":2005.35,"g":345,"n":315},{"t":2005.40,"g":314,"n":330},{"t":2005.44,"g":320,"n":311},{"t":2005.48,"g":293,"n":321},{"t":2005.52,"g":317,"n":289},{"t":2005.56,"g":292,"n":302},{"t":2005.60,"g":304,"n":306},{"t":2005.65,"g":272,"n":282},{"t":2005.69,"g":293,"n":301},{"t":2005.73,"g":298,"n":270},{"t":2005.77,"g":268,"n":284},{"t":2005.81,"g":281,"n":258},{"t":2005.85,"g":256,"n":279},{"t":2005.90,"g":287,"n":266},{"t":2005.94,"g":267,"n":283},{"t":2005.98,"g":285,"n":265},
{"t":2006.02,"g":271,"n":295},{"t":2006.06,"g":303,"n":286},{"t":2006.10,"g":293,"n":315},{"t":2006.15,"g":329,"n":299},{"t":2006.19,"g":307,"n":315},{"t":2006.23,"g":341,"n":339},{"t":2006.27,"g":314,"n":317},{"t":2006.31,"g":340,"n":328},{"t":2006.35,"g":321,"n":340},{"t":2006.40,"g":342,"n":312},{"t":2006.44,"g":305,"n":333},{"t":2006.48,"g":321,"n":305},{"t":2006.52,"g":303,"n":314},{"t":2006.56,"g":317,"n":290},{"t":2006.60,"g":282,"n":293},{"t":2006.65,"g":306,"n":305},{"t":2006.69,"g":283,"n":278},{"t":2006.73,"g":272,"n":294},{"t":2006.77,"g":300,"n":272},{"t":2006.81,"g":265,"n":289},{"t":2006.85,"g":284,"n":267},{"t":2006.90,"g":267,"n":288},{"t":2006.94,"g":290,"n":263},{"t":2006.98,"g":263,"n":285},
{"t":2007.02,"g":295,"n":275},{"t":2007.06,"g":276,"n":303},{"t":2007.10,"g":307,"n":285},{"t":2007.15,"g":291,"n":315},{"t":2007.19,"g":332,"n":331},{"t":2007.23,"g":320,"n":315},{"t":2007.27,"g":340,"n":334},{"t":2007.31,"g":320,"n":347},{"t":2007.35,"g":347,"n":317},{"t":2007.40,"g":316,"n":332},{"t":2007.44,"g":322,"n":313},{"t":2007.48,"g":295,"n":323},{"t":2007.52,"g":319,"n":291},{"t":2007.56,"g":294,"n":304},{"t":2007.60,"g":306,"n":308},{"t":2007.65,"g":274,"n":284},{"t":2007.69,"g":295,"n":303},{"t":2007.73,"g":300,"n":272},{"t":2007.77,"g":270,"n":286},{"t":2007.81,"g":283,"n":260},{"t":2007.85,"g":258,"n":281},{"t":2007.90,"g":289,"n":268},{"t":2007.94,"g":269,"n":285},{"t":2007.98,"g":287,"n":267},
{"t":2008.02,"g":270,"n":294},{"t":2008.06,"g":302,"n":285},{"t":2008.10,"g":292,"n":314},{"t":2008.15,"g":328,"n":298},{"t":2008.19,"g":306,"n":314},{"t":2008.23,"g":340,"n":338},{"t":2008.27,"g":313,"n":316},{"t":2008.31,"g":339,"n":327},{"t":2008.35,"g":320,"n":339},{"t":2008.40,"g":341,"n":311},{"t":2008.44,"g":304,"n":332},{"t":2008.48,"g":320,"n":304},{"t":2008.52,"g":302,"n":313},{"t":2008.56,"g":316,"n":289},{"t":2008.60,"g":281,"n":292},{"t":2008.65,"g":305,"n":304},{"t":2008.69,"g":282,"n":277},{"t":2008.73,"g":271,"n":293},{"t":2008.77,"g":299,"n":271},{"t":2008.81,"g":264,"n":288},{"t":2008.85,"g":283,"n":266},{"t":2008.90,"g":266,"n":287},{"t":2008.94,"g":289,"n":262},{"t":2008.98,"g":262,"n":284},
{"t":2009.02,"g":298,"n":278},{"t":2009.06,"g":279,"n":306},{"t":2009.10,"g":310,"n":288},{"t":2009.15,"g":294,"n":318},{"t":2009.19,"g":335,"n":334},{"t":2009.23,"g":323,"n":318},{"t":2009.27,"g":343,"n":337},{"t":2009.31,"g":323,"n":350},{"t":2009.35,"g":350,"n":320},{"t":2009.40,"g":319,"n":335},{"t":2009.44,"g":325,"n":316},{"t":2009.48,"g":298,"n":326},{"t":2009.52,"g":322,"n":294},{"t":2009.56,"g":297,"n":307},{"t":2009.60,"g":309,"n":311},{"t":2009.65,"g":277,"n":287},{"t":2009.69,"g":298,"n":306},{"t":2009.73,"g":303,"n":275},{"t":2009.77,"g":273,"n":289},{"t":2009.81,"g":286,"n":263},{"t":2009.85,"g":261,"n":284},{"t":2009.90,"g":292,"n":271},{"t":2009.94,"g":272,"n":288},{"t":2009.98,"g":290},
{"t":2010.02,"g":275},{"t":2010.06,"g":307},{"t":2010.10,"g":297},{"t":2010.15,"g":333},{"t":2010.19,"g":311},{"t":2010.23,"g":345,"n":343},{"t":2010.27,"g":318,"n":321},{"t":2010.31,"g":344,"n":332},{"t":2010.35,"g":325,"n":344},{"t":2010.40,"g":346,"n":316},{"t":2010.44,"g":309,"n":337},{"t":2010.48,"g":325,"n":309},{"t":2010.52,"g":307,"n":318},{"t":2010.56,"g":321,"n":294},{"t":2010.60,"g":286,"n":297},{"t":2010.65,"g":310,"n":309},{"t":2010.69,"g":287,"n":282},{"t":2010.73,"g":276,"n":298},{"t":2010.77,"g":304,"n":276},{"t":2010.81,"g":269,"n":293},{"t":2010.85,"g":288,"n":271},{"t":2010.90,"g":271,"n":292},{"t":2010.94,"g":294,"n":267},{"t":2010.98,"g":267,"n":289},
{"t":2011.02,"g":293,"n":273},{"t":2011.06,"g":274,"n":301},{"t":2011.10,"g":305,"n":283},{"t":2011.15,"g":289,"n":313},{"t":2011.19,"g":330,"n":329},{"t":2011.23,"g":318,"n":313},{"t":2011.27,"g":338,"n":332},{"t":2011.31,"g":318,"n":345},{"t":2011.35,"g":345,"n":315},{"t":2011.40,"g":314,"n":330},{"t":2011.44,"g":320,"n":311},{"t":2011.48,"g":293,"n":321},{"t":2011.52,"g":317,"n":289},{"t":2011.56,"g":292,"n":302},{"t":2011.60,"g":304,"n":306},{"t":2011.65,"g":272,"n":282},{"t":2011.69,"g":293,"n":301},{"t":2011.73,"g":298,"n":270},{"t":2011.77,"g":268,"n":284},{"t":2011.81,"g":281,"n":258},{"t":2011.85,"g":256,"n":279},{"t":2011.90,"g":287,"n":266},{"t":2011.94,"g":267,"n":283},{"t":2011.98,"g":285,"n":265},
{"t":2012.02,"g":269,"n":293},{"t":2012.06,"g":301,"n":284},{"t":2012.10,"g":291,"n":313},{"t":2012.15,"g":327,"n":297},{"t":2012.19,"g":305,"n":313},{"t":2012.23,"g":339,"n":337},{"t":2012.27,"g":312,"n":315},{"t":2012.31,"g":338,"n":326},{"t":2012.35,"g":319,"n":338},{"t":2012.40,"g":340,"n":310},{"t":2012.44,"g":303,"n":331},{"t":2012.48,"g":319,"n":303},{"t":2012.52,"g":301,"n":312},{"t":2012.56,"g":315,"n":288},{"t":2012.60,"g":280,"n":291},{"t":2012.65,"g":304,"n":303},{"t":2012.69,"g":281,"n":276},{"t":2012.73,"g":270,"n":292},{"t":2012.77,"g":298,"n":270},{"t":2012.81,"g":263,"n":287},{"t":2012.85,"g":282,"n":265},{"t":2012.90,"g":265,"n":286},{"t":2012.94,"g":288,"n":261},{"t":2012.98,"g":261,"n":283},
{"t":2013.02,"g":297,"n":277},{"t":2013.06,"g":278,"n":305},{"t":2013.10,"g":309,"n":287},{"t":2013.15,"g":293,"n":317},{"t":2013.19,"g":334,"n":333},{"t":2013.23,"g":322,"n":317},{"t":2013.27,"g":342,"n":336},{"t":2013.31,"g":322,"n":349},{"t":2013.35,"g":349,"n":319},{"t":2013.40,"g":318,"n":334},{"t":2013.44,"g":324,"n":315},{"t":2013.48,"g":297,"n":325},{"t":2013.52,"g":321,"n":293},{"t":2013.56,"g":296,"n":306},{"t":2013.60,"g":308,"n":310},{"t":2013.65,"g":276,"n":286},{"t":2013.69,"g":297,"n":305},{"t":2013.73,"g":302,"n":274},{"t":2013.77,"g":272,"n":288},{"t":2013.81,"g":285,"n":262},{"t":2013.85,"g":260,"n":283},{"t":2013.90,"g":291,"n":270},{"t":2013.94,"g":271,"n":287},{"t":2013.98,"g":289,"n":269},
{"t":2014.02,"g":268,"n":292},{"t":2014.06,"g":300,"n":283},{"t":2014.10,"g":290,"n":312},{"t":2014.15,"g":326,"n":296},{"t":2014.19,"g":304,"n":312},{"t":2014.23,"g":338,"n":336},{"t":2014.27,"g":311,"n":314},{"t":2014.31,"g":337,"n":325},{"t":2014.35,"g":318,"n":337},{"t":2014.40,"g":339,"n":309},{"t":2014.44,"g":302,"n":330},{"t":2014.48,"g":318,"n":302},{"t":2014.52,"g":300,"n":311},{"t":2014.56,"g":314,"n":287},{"t":2014.60,"g":279,"n":290},{"t":2014.65,"g":303,"n":302},{"t":2014.69,"g":280,"n":275},{"t":2014.73,"g":269,"n":291},{"t":2014.77,"g":297,"n":269},{"t":2014.81,"g":262,"n":286},{"t":2014.85,"g":281,"n":264},{"t":2014.90,"g":264,"n":285},{"t":2014.94,"g":287,"n":260},{"t":2014.98,"g":260,"n":282},
{"t":2015.02,"g":298,"n":278},{"t":2015.06,"g":279,"n":306},{"t":2015.10,"g":310,"n":288},{"t":2015.15,"g":294,"n":318},{"t":2015.19,"g":335,"n":334},{"t":2015.23,"g":323,"n":318},{"t":2015.27,"g":343,"n":337},{"t":2015.31,"g":323,"n":350},{"t":2015.35,"g":350,"n":320},{"t":2015.40,"g":319,"n":335},{"t":2015.44,"g":325,"n":316},{"t":2015.48,"g":298,"n":326},{"t":2015.52,"g":322,"n":294},{"t":2015.56,"g":297,"n":307},{"t":2015.60,"g":309,"n":311},{"t":2015.65,"g":277,"n":287},{"t":2015.69,"g":298,"n":306},{"t":2015.73,"g":303,"n":275},{"t":2015.77,"g":273,"n":289},{"t":2015.81,"g":286,"n":263},{"t":2015.85,"g":261,"n":284},{"t":2015.90,"g":292,"n":271},{"t":2015.94,"g":272,"n":288},{"t":2015.98,"g":290,"n":270},
{"t":2016.02,"g":269,"n":293},{"t":2016.06,"g":301,"n":284},{"t":2016.10,"g":291,"n":313},{"t":2016.15,"g":327,"n":297},{"t":2016.19,"g":305,"n":313},{"t":2016.23,"g":339,"n":337},{"t":2016.27,"g":312,"n":315},{"t":2016.31,"g":338,"n":326},{"t":2016.35,"g":319,"n":338},{"t":2016.40,"g":340,"n":310},{"t":2016.44,"g":303,"n":331},{"t":2016.48,"g":319,"n":303},{"t":2016.52,"g":301,"n":312},{"t":2016.56,"g":315,"n":288},{"t":2016.60,"g":280,"n":291},{"t":2016.65,"g":304,"n":303},{"t":2016.69,"g":281,"n":276},{"t":2016.73,"g":270,"n":292},{"t":2016.77,"g":298},{"t":2016.81,"g":263},{"t":2016.85,"g":282},{"t":2016.90,"g":265},{"t":2016.94,"g":288},{"t":2016.98,"g":261},
{"t":2017.02,"g":299},{"t":2017.06,"g":402},{"t":2017.10,"g":385},{"t":2017.15,"g":295,"n":319},{"t":2017.19,"g":336,"n":335},{"t":2017.23,"g":324,"n":319},{"t":2017.27,"g":344,"n":338},{"t":2017.31,"g":324,"n":351},{"t":2017.35,"g":351,"n":321},{"t":2017.40,"g":320,"n":336},{"t":2017.44,"g":326,"n":317},{"t":2017.48,"g":299,"n":327},{"t":2017.52,"g":323,"n":295},{"t":2017.56,"g":298,"n":308},{"t":2017.60,"g":310,"n":312},{"t":2017.65,"g":278,"n":288},{"t":2017.69,"g":299,"n":307},{"t":2017.73,"g":304,"n":276},{"t":2017.77,"g":274,"n":290},{"t":2017.81,"g":287,"n":264},{"t":2017.85,"g":262,"n":285},{"t":2017.90,"g":293,"n":272},{"t":2017.94,"g":273,"n":289},{"t":2017.98,"g":291,"n":271},
{"t":2018.02,"g":270,"n":294},{"t":2018.06,"g":302,"n":285},{"t":2018.10,"g":292,"n":314},{"t":2018.15,"g":328,"n":298},{"t":2018.19,"g":306,"n":314},{"t":2018.23,"g":340,"n":338},{"t":2018.27,"g":313,"n":316},{"t":2018.31,"g":339,"n":327},{"t":2018.35,"g":320,"n":339},{"t":2018.40,"g":341,"n":311},{"t":2018.44,"g":304,"n":332},{"t":2018.48,"g":320,"n":304},{"t":2018.52,"g":302,"n":313},{"t":2018.56,"g":316,"n":289},{"t":2018.60,"g":281,"n":292},{"t":2018.65,"g":305,"n":304},{"t":2018.69,"g":282,"n":277},{"t":2018.73,"g":271,"n":293},{"t":2018.77,"g":299,"n":271},{"t":2018.81,"g":264,"n":288},{"t":2018.85,"g":283,"n":266},{"t":2018.90,"g":266,"n":287},{"t":2018.94,"g":289,"n":250},{"t":2018.98,"g":262,"n":240}
]
},
"spacing":29,
"bounds":"flush",
"resolve":{"scale":{"fill":"independent","stroke":"independent"},"legend":{"fill":"independent","stroke":"independent"}},
"vconcat":[
{"width":712,"height":91,"data":{"name":"co2"},
"resolve":{"axis":{"x":"independent","y":"independent"}},
"layer":[
{"mark":{"type":"point","filled":true,"size":55,"opacity":1,"clip":true},
"encoding":{
"x":{"field":"t","type":"quantitative","scale":{"domain":[1999,2019],"nice":false},"axis":{"orient":"bottom","title":null,"labels":false,"values":[1999,1999.5,2000,2000.5,2001,2001.5,2002,2002.5,2003,2003.5,2004,2004.5,2005,2005.5,2006,2006.5,2007,2007.5,2008,2008.5,2009,2009.5,2010,2010.5,2011,2011.5,2012,2012.5,2013,2013.5,2014,2014.5,2015,2015.5,2016,2016.5,2017,2017.5,2018,2018.5,2019]}},
"y":{"field":"g","type":"quantitative","scale":{"domain":[350,420],"nice":false,"zero":false},"axis":{"orient":"left","title":"CO₂ [ppmv]","values":[350,360,370,380,390,400,410,420],"labelExpr":"datum.value % 20 === 0 ? datum.label : ''","labelPadding":15,"minExtent":27,"maxExtent":27,"titlePadding":6}},
"fill":{"datum":"GAW CO₂","scale":{"range":["#8a8a8a"]},"legend":{"orient":"none","legendX":519,"legendY":68,"symbolSize":22,"labelOffset":10}}
}},
{"mark":{"type":"point","filled":false,"size":50,"strokeWidth":1.8,"opacity":1,"clip":true},
"encoding":{
"x":{"field":"t","type":"quantitative","axis":{"orient":"top","title":null,"labels":false,"values":[1999,1999.5,2000,2000.5,2001,2001.5,2002,2002.5,2003,2003.5,2004,2004.5,2005,2005.5,2006,2006.5,2007,2007.5,2008,2008.5,2009,2009.5,2010,2010.5,2011,2011.5,2012,2012.5,2013,2013.5,2014,2014.5,2015,2015.5,2016,2016.5,2017,2017.5,2018,2018.5,2019]}},
"y":{"field":"x","type":"quantitative","axis":{"orient":"right","title":null,"labels":false,"values":[350,360,370,380,390,400,410,420]}},
"stroke":{"datum":"TCCON FTIR XCO₂","scale":{"range":["#3cf53c"]},"legend":{"orient":"none","legendX":593,"legendY":68,"symbolSize":50,"symbolStrokeWidth":1.6,"labelOffset":8}}
}},
{"mark":{"type":"text","align":"left","baseline":"middle","fontSize":13,"font":"Liberation Sans","color":"#333"},
"encoding":{"x":{"datum":1999.39,"type":"quantitative","axis":null},"y":{"datum":410,"type":"quantitative","axis":null},"text":{"value":"a)"}}}
]},
{"width":712,"height":91,"data":{"name":"ch4"},
"resolve":{"axis":{"x":"independent","y":"independent"}},
"layer":[
{"mark":{"type":"point","filled":true,"size":50,"opacity":1,"clip":true},
"encoding":{
"x":{"field":"t","type":"quantitative","scale":{"domain":[1999,2019],"nice":false},"axis":{"orient":"bottom","title":null,"labels":false,"values":[1999,1999.5,2000,2000.5,2001,2001.5,2002,2002.5,2003,2003.5,2004,2004.5,2005,2005.5,2006,2006.5,2007,2007.5,2008,2008.5,2009,2009.5,2010,2010.5,2011,2011.5,2012,2012.5,2013,2013.5,2014,2014.5,2015,2015.5,2016,2016.5,2017,2017.5,2018,2018.5,2019]}},
"y":{"field":"g","type":"quantitative","scale":{"domain":[1.7,2.0],"nice":false,"zero":false},"axis":{"orient":"left","title":"CH₄ [ppmv]","values":[1.7,1.75,1.8,1.85,1.9,1.95,2.0],"labelExpr":"abs(datum.value*10 - round(datum.value*10)) < 0.001 ? format(datum.value, '.1f') : ''","labelPadding":15,"minExtent":27,"maxExtent":27,"titlePadding":6}},
"fill":{"datum":"GAW CH₄","scale":{"range":["#8a8a8a"]},"legend":{"orient":"none","legendX":378,"legendY":73,"symbolSize":22,"labelOffset":10}}
}},
{"mark":{"type":"point","filled":false,"size":64,"strokeWidth":2,"opacity":1,"clip":true},
"encoding":{
"x":{"field":"t","type":"quantitative","axis":{"orient":"top","title":null,"labels":false,"values":[1999,1999.5,2000,2000.5,2001,2001.5,2002,2002.5,2003,2003.5,2004,2004.5,2005,2005.5,2006,2006.5,2007,2007.5,2008,2008.5,2009,2009.5,2010,2010.5,2011,2011.5,2012,2012.5,2013,2013.5,2014,2014.5,2015,2015.5,2016,2016.5,2017,2017.5,2018,2018.5,2019]}},
"y":{"field":"n","type":"quantitative","axis":{"orient":"right","title":null,"labels":false,"values":[1.7,1.75,1.8,1.85,1.9,1.95,2.0]}},
"stroke":{"datum":"NDACC FTIR Tropopospheric CH₄ (corrected by 2%)","scale":{"range":["#ff0000"]},"legend":{"orient":"none","legendX":449,"legendY":73,"symbolSize":50,"symbolStrokeWidth":1.6,"labelOffset":9}}
}},
{"mark":{"type":"text","align":"left","baseline":"middle","fontSize":13,"font":"Liberation Sans","color":"#333"},
"encoding":{"x":{"datum":1999.39,"type":"quantitative","axis":null},"y":{"datum":1.954,"type":"quantitative","axis":null},"text":{"value":"b)"}}}
]},
{"width":712,"height":91,"data":{"name":"o3"},
"resolve":{"axis":{"x":"independent","y":"independent"}},
"layer":[
{"mark":{"type":"point","filled":true,"size":50,"opacity":1,"clip":true},
"encoding":{
"x":{"field":"t","type":"quantitative","scale":{"domain":[1999,2019],"nice":false},"axis":{"orient":"bottom","title":null,"format":"d","labelExpr":"datum.value % 1 === 0 ? datum.label : ''","labelPadding":11,"values":[1999,1999.5,2000,2000.5,2001,2001.5,2002,2002.5,2003,2003.5,2004,2004.5,2005,2005.5,2006,2006.5,2007,2007.5,2008,2008.5,2009,2009.5,2010,2010.5,2011,2011.5,2012,2012.5,2013,2013.5,2014,2014.5,2015,2015.5,2016,2016.5,2017,2017.5,2018,2018.5,2019]}},
"y":{"field":"g","type":"quantitative","scale":{"domain":[100,500],"nice":false,"zero":false},"axis":{"orient":"left","title":"O₃ [DU]","values":[100,150,200,250,300,350,400,450,500],"labelExpr":"datum.value % 100 === 0 ? datum.label : ''","labelPadding":15,"minExtent":27,"maxExtent":27,"titlePadding":6}},
"fill":{"datum":"Brewer O₃TC","scale":{"range":["#8a8a8a"]},"legend":{"orient":"none","legendX":428,"legendY":71,"symbolSize":22,"labelOffset":10}}
}},
{"mark":{"type":"point","filled":false,"size":58,"strokeWidth":1.8,"opacity":1,"clip":true},
"encoding":{
"x":{"field":"t","type":"quantitative","axis":{"orient":"top","title":null,"labels":false,"values":[1999,1999.5,2000,2000.5,2001,2001.5,2002,2002.5,2003,2003.5,2004,2004.5,2005,2005.5,2006,2006.5,2007,2007.5,2008,2008.5,2009,2009.5,2010,2010.5,2011,2011.5,2012,2012.5,2013,2013.5,2014,2014.5,2015,2015.5,2016,2016.5,2017,2017.5,2018,2018.5,2019]}},
"y":{"field":"n","type":"quantitative","axis":{"orient":"right","title":null,"labels":false,"values":[100,150,200,250,300,350,400,450,500]}},
"stroke":{"datum":"NDACC FTIR O₃TC (corrected by 4%)","scale":{"range":["#0000ff"]},"legend":{"orient":"none","legendX":514,"legendY":71,"symbolSize":50,"symbolStrokeWidth":1.6,"labelOffset":9}}
}},
{"mark":{"type":"text","align":"left","baseline":"middle","fontSize":13,"font":"Liberation Sans","color":"#333"},
"encoding":{"x":{"datum":1999.39,"type":"quantitative","axis":null},"y":{"datum":438,"type":"quantitative","axis":null},"text":{"value":"c)"}}}
]}
]
}
